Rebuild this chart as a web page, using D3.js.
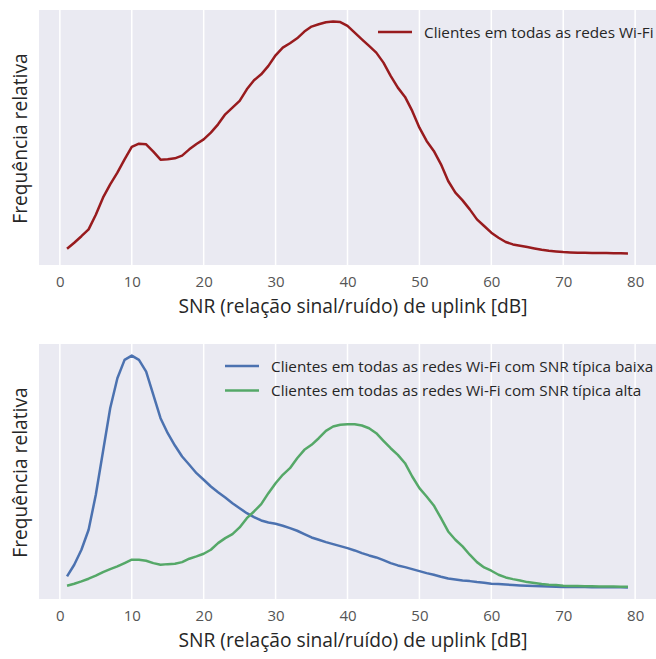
<!DOCTYPE html>
<html>
<head>
<meta charset="utf-8">
<script src="https://cdn.jsdelivr.net/npm/d3@7"></script>
<style>
  html, body { margin: 0; padding: 0; background: #fff; }
  svg { display: block; font-family: "Open Sans", "Noto Sans", sans-serif; }
</style>
</head>
<body>
<svg id="chart" width="656" height="659"></svg>
<script>
// ---- Data (relative frequency, arbitrary units) ----
const snr = d3.range(1, 80); // 1..79 dB

const allClients = [
  5, 11, 17.5, 24.3, 39, 56, 69.3, 81, 94.3, 106.7,
  110, 109.3, 102, 94, 94.3, 95.3, 98, 104.3, 109.7, 114.3,
  121, 129.3, 139.3, 146, 152.7, 164.3, 173.3, 179.3, 187.7, 198.3,
  206, 210.3, 215.3, 222, 227, 229.3, 231.3, 232, 231.5, 227.7,
  221, 214.3, 207.7, 201, 191, 177.7, 166, 156.7, 142.7, 126,
  112.7, 102.7, 89.3, 72.7, 61, 53.3, 44.3, 34.3, 27.7, 21,
  16, 11.7, 9.3, 8, 6.7, 5.3, 4, 3, 2.3, 1.7,
  1.3, 1, 0.9, 0.8, 0.7, 0.6, 0.5, 0.4, 0.3
];

const lowSnrClients = [
  11, 22.7, 37.7, 57.7, 92.7, 136, 179.3, 209.3, 227.7, 232,
  227.7, 216, 192.7, 169.3, 154.3, 142, 131, 122.7, 114.3, 107.7,
  101, 95.3, 90, 84.3, 79.3, 74.3, 70.3, 67, 65, 63.7,
  61.7, 59.3, 56.7, 53.3, 50, 47.7, 45.3, 43.3, 41.3, 39.3,
  37, 34.3, 32, 30, 27.3, 24.3, 22, 20.3, 18.3, 16.3,
  14.3, 12.7, 10.7, 9, 8, 7, 6.3, 5.3, 4.7, 3.7,
  3.3, 2.8, 2.4, 2, 1.7, 1.4, 1.1, 0.9, 0.7, 0.5,
  0.4, 0.3, 0.3, 0.2, 0.2, 0.1, 0.1, 0.1, 0
];

const highSnrClients = [
  1.7, 3.7, 6, 8.7, 11.7, 15.3, 18.3, 21, 24.3, 27.7,
  27.7, 26.7, 24.3, 22.7, 23.3, 23.7, 25.3, 28.7, 31, 33.7,
  37.7, 44.3, 49.3, 53.3, 60, 69.3, 76, 83.3, 94.3, 104.3,
  112.7, 119.3, 129.3, 137.7, 142.7, 149.3, 156.7, 161, 162.7, 163.3,
  163.3, 162, 159.3, 154.3, 146.7, 139.3, 132.7, 124.3, 111, 99.3,
  91, 82, 69.3, 56, 47.7, 41, 32.7, 25.3, 20, 16.7,
  12.7, 10, 8.3, 7, 5.3, 4.3, 3.3, 2.7, 2.3, 1.7,
  1.5, 1.3, 1.2, 1.1, 1, 0.9, 0.8, 0.7, 0.7
];

const xTicks = [0, 10, 20, 30, 40, 50, 60, 70, 80];
const xLabel = "SNR (relação sinal/ruído) de uplink [dB]";
const yLabel = "Frequência relativa";

const panels = [
  { top: 10, bottom: 265,
    series: [ { name: "Clientes em todas as redes Wi-Fi", values: allClients, color: "#981b1e" } ],
    legend: { x: 378, y: 32 } },
  { top: 344, bottom: 599,
    series: [
      { name: "Clientes em todas as redes Wi-Fi com SNR típica baixa", values: lowSnrClients, color: "#4c72b0" },
      { name: "Clientes em todas as redes Wi-Fi com SNR típica alta", values: highSnrClients, color: "#55a868" }
    ],
    legend: { x: 225, y: 366 } }
];

const svg = d3.select("#chart");
const left = 39, right = 656;
const xExt = d3.extent(snr);
const xPad = (xExt[1] - xExt[0]) * 0.05;
const x = d3.scaleLinear().domain([xExt[0] - xPad, xExt[1] + xPad]).range([left, right]);

panels.forEach(p => {
  const allVals = p.series.flatMap(s => s.values);
  const yExt = d3.extent(allVals);
  const yPad = (yExt[1] - yExt[0]) * 0.05;
  const y = d3.scaleLinear().domain([yExt[0] - yPad, yExt[1] + yPad]).range([p.bottom, p.top]);

  const g = svg.append("g");
  g.append("rect").attr("x", left).attr("y", p.top)
    .attr("width", right - left).attr("height", p.bottom - p.top)
    .attr("fill", "#eaeaf2");

  // vertical grid
  g.selectAll("line.grid").data(xTicks).join("line")
    .attr("class", "grid")
    .attr("x1", d => x(d)).attr("x2", d => x(d))
    .attr("y1", p.top).attr("y2", p.bottom)
    .attr("stroke", "#ffffff").attr("stroke-width", 1.5);

  // x axis (labels only)
  const ax = g.append("g").attr("transform", `translate(0,${p.bottom})`)
    .call(d3.axisBottom(x).tickValues(xTicks).tickSize(0).tickPadding(11).tickFormat(d3.format("d")));
  ax.select(".domain").remove();
  ax.selectAll("text").attr("font-size", 15).attr("fill", "#555555")
    .attr("font-family", "'Open Sans', sans-serif");

  g.append("text").attr("x", 353).attr("y", p.bottom + 48)
    .attr("text-anchor", "middle").attr("font-size", 19.2).attr("fill", "#262626")
    .text(xLabel);

  g.append("text")
    .attr("transform", `translate(27,${(p.top + p.bottom) / 2 + 1}) rotate(-90)`)
    .attr("text-anchor", "middle").attr("font-size", 19.2).attr("fill", "#262626")
    .text(yLabel);

  const line = d3.line().x((d, i) => x(snr[i])).y(d => y(d));
  p.series.forEach(s => {
    g.append("path").datum(s.values)
      .attr("d", line).attr("fill", "none")
      .attr("stroke", s.color).attr("stroke-width", 2.5)
      .attr("stroke-linejoin", "round").attr("stroke-linecap", "butt");
  });

  // legend
  p.series.forEach((s, i) => {
    const ly = p.legend.y + i * 24.4;
    g.append("line").attr("x1", p.legend.x).attr("x2", p.legend.x + 34)
      .attr("y1", ly).attr("y2", ly).attr("stroke", s.color).attr("stroke-width", 2.5);
    g.append("text").attr("x", p.legend.x + 46).attr("y", ly + 5.5)
      .attr("font-size", 15.3).attr("fill", "#262626").text(s.name);
  });
});
</script>
</body>
</html>
